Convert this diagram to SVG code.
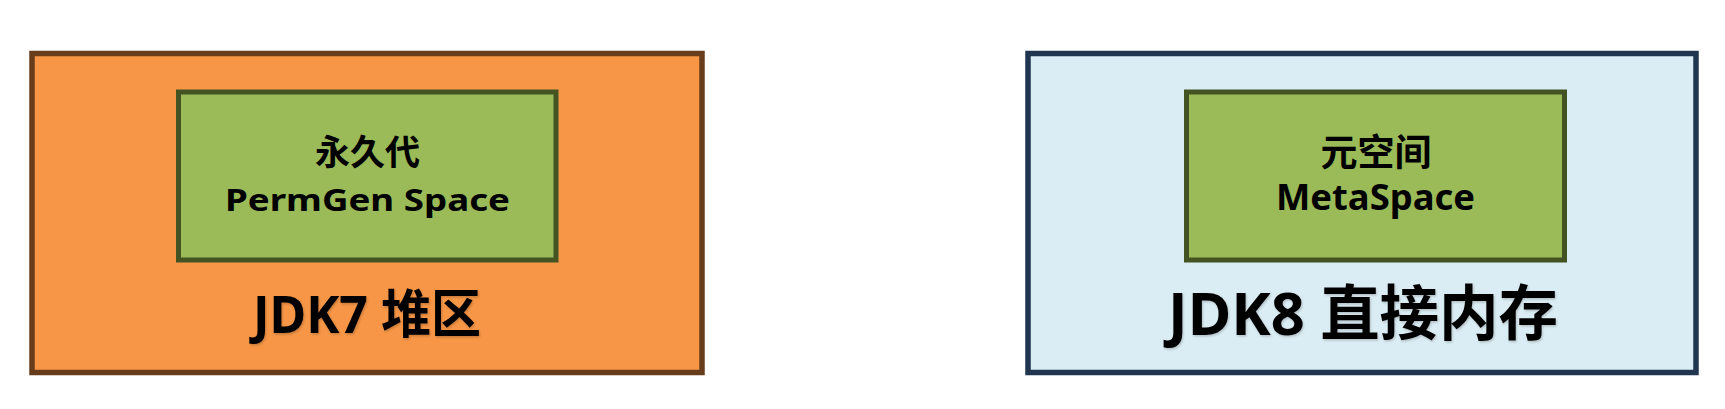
<svg xmlns="http://www.w3.org/2000/svg" width="1725" height="409" viewBox="0 0 1725 409">
  <defs>
    <style>
      .lbl { font-family: "Noto Sans", "Noto Sans CJK SC", sans-serif; font-weight: bold; fill: #000; text-anchor: middle; }
      .inner { fill: #9BBB59; stroke: #435322; stroke-width: 5; }
      .big { filter: url(#shadow); }
    </style>
    <filter id="shadow" x="-10%" y="-20%" width="120%" height="140%">
      <feDropShadow dx="1" dy="1.5" stdDeviation="1" flood-color="#000" flood-opacity="0.2"/>
    </filter>
  </defs>
  <rect width="1725" height="409" fill="#FFFFFF"/>
  <g id="jdk7">
    <rect x="32" y="53.5" width="670" height="319" fill="#F79646" stroke="#673C1A" stroke-width="5.5"/>
    <text class="lbl big" x="367" y="332.7" font-size="52" textLength="228" lengthAdjust="spacingAndGlyphs">JDK7 堆区</text>
  </g>
  <g id="permgen">
    <rect class="inner" x="178.5" y="92" width="377.5" height="168"/>
    <text class="lbl" x="367.5" y="164.5" font-size="35">永久代</text>
    <text class="lbl" x="367.5" y="210.7" font-size="30" textLength="285" lengthAdjust="spacingAndGlyphs">PermGen Space</text>
  </g>
  <g id="jdk8">
    <rect x="1028" y="53.5" width="668" height="319" fill="#DBEDF4" stroke="#1F3550" stroke-width="5.5"/>
    <text class="lbl big" x="1363" y="335" font-size="60" textLength="390" lengthAdjust="spacingAndGlyphs">JDK8 直接内存</text>
  </g>
  <g id="metaspace">
    <rect class="inner" x="1186.5" y="92" width="378" height="168"/>
    <text class="lbl" x="1376" y="166" font-size="37">元空间</text>
    <text class="lbl" x="1375.5" y="210" font-size="35" textLength="199" lengthAdjust="spacingAndGlyphs">MetaSpace</text>
  </g>
  <g id="connectors"></g>
</svg>
